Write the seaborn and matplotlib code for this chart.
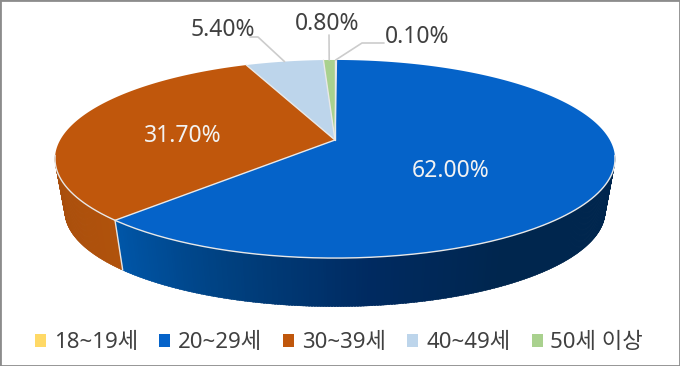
import numpy as np
import seaborn as sns
import matplotlib.pyplot as plt
from matplotlib.patches import Patch


age_groups = ["18~19세", "20~29세", "30~39세", "40~49세", "50세 이상"]
shares = [0.1, 62.0, 31.7, 5.4, 0.8]
share_labels = ["0.10%", "62.00%", "31.70%", "5.40%", "0.80%"]
colors = ["#FFD966", "#0563C9", "#C0570C", "#BDD5EB", "#A9D18E"]

# dark side of the pie, front to back
side_shades = {
    "#0563C9": ["#0056A8", "#00407F", "#002A60", "#00264E", "#00264E", "#00264E"],
    "#C0570C": ["#A84E0C", "#AC500C", "#B0520C"],
}


sns.set_theme(style="white")
plt.rcParams["font.family"] = ["Noto Sans", "Noto Sans CJK KR", "DejaVu Sans"]


# tilted disc, angle in degrees clockwise from 12 o'clock
def top_rim(angle):
    t = np.radians(angle)
    u, v = np.sin(t), np.cos(t)
    w = 1 + 0.192 * v
    return 335 + 274.8 * u / w, 140 - 95.4 * v / w


def bottom_rim(angle):
    x, y = top_rim(angle)
    return 335 + (x - 335) * 0.965, 211 + (y - 159) * 0.965


fig, ax = plt.subplots(figsize=(6.8, 3.66), dpi=100)
fig.subplots_adjust(0, 0, 1, 1)
ax.set_xlim(0, 680)
ax.set_ylim(366, 0)
ax.set_xticks([])
ax.set_yticks([])
for spine in ax.spines.values():
    spine.set_visible(True)
    spine.set_color("#8c8c8c")
    spine.set_linewidth(2)

edges = np.concatenate([[0], np.cumsum(shares)]) * 3.6
wall_from, wall_to = 99, 261

# side wall, only the part turned towards the viewer
for start, end, color in zip(edges[:-1], edges[1:], colors):
    lo, hi = max(start, wall_from), min(end, wall_to)
    if lo >= hi or color not in side_shades:
        continue
    n = int(hi - lo) * 2
    shades = sns.blend_palette(side_shades[color][::-1], n)
    steps = np.linspace(lo, hi, n + 1)
    for i in range(n):
        arc = np.linspace(steps[i], steps[i + 1] + 0.3, 3)
        x1, y1 = top_rim(arc)
        x2, y2 = bottom_rim(arc)
        ax.fill(np.r_[x1, x2[::-1]], np.r_[y1, y2[::-1]], color=shades[i], lw=0.3, zorder=2)
    # seam between two slices on the wall
    if start > wall_from:
        x1, y1 = top_rim(lo)
        x2, y2 = bottom_rim(lo)
        ax.plot([x1, x2], [y1, y2], color="#e4e4e4", lw=1, zorder=3)

# top surface
handles = []
for start, end, color, name in zip(edges[:-1], edges[1:], colors, age_groups):
    arc = np.linspace(start, end, max(int(end - start) * 2, 4))
    x, y = top_rim(arc)
    ax.fill(np.r_[335, x], np.r_[140, y], facecolor=color, edgecolor="none", zorder=4)
    handles.append(Patch(facecolor=color, edgecolor="none", label=name))

# light seams between slices and along the front rim
for angle in edges[:-1]:
    x, y = top_rim(angle)
    ax.plot([335, x], [140, y], color="#e8e8e8", lw=1, zorder=5)
rim_x, rim_y = top_rim(np.linspace(wall_from, wall_to, 200))
ax.plot(rim_x, rim_y, color="#e8e8e8", lw=1, zorder=5)

# value labels, with leader lines for the small slices
label_pos = {
    "62.00%": (451, 171, "#f2f2f2"),
    "31.70%": (183, 136, "#f2f2f2"),
    "5.40%": (223, 30, "#404040"),
    "0.80%": (327, 24, "#404040"),
    "0.10%": (417, 37, "#404040"),
}
for text, (x, y, color) in label_pos.items():
    ax.text(x, y, text, color=color, fontsize=16.5, ha="center", va="center", zorder=6)

mids = (edges[:-1] + edges[1:]) / 2
leaders = {3: [(250, 37), (258, 37)], 4: [(329, 35)], 0: [(384, 43), (362, 43)]}
for i, points in leaders.items():
    end_x, end_y = top_rim(mids[i])
    xs = [p[0] for p in points] + [end_x]
    ys = [p[1] for p in points] + [end_y]
    ax.plot(xs, ys, color="#cccccc", lw=1.2, zorder=5)

ax.legend(
    handles=handles,
    loc="center",
    bbox_to_anchor=(339 / 680, 1 - 343 / 366),
    ncol=5,
    frameon=False,
    fontsize=16,
    labelcolor="#404040",
    handlelength=0.5,
    handleheight=0.5,
    handletextpad=0.35,
    columnspacing=0.95,
)

plt.savefig("out.png", dpi=100)
